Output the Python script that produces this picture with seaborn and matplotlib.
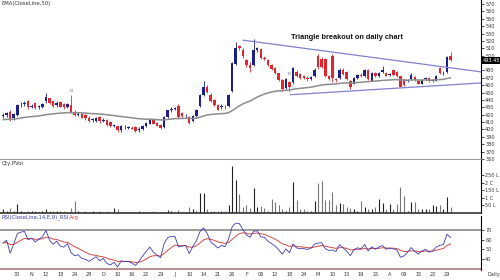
import numpy as np
import pandas as pd
import matplotlib
matplotlib.use("Agg")
import matplotlib.pyplot as plt
import seaborn as sns

# ---------------- data ----------------
opens = [418, 419, 424, 415, 420, 434, 435, 438, 431, 436, 430, 431, 438, 442, 438, 433, 437, 434, 431, 433,
         424, 420, 421, 420, 416, 413, 411, 417, 412, 413, 410, 405, 404, 399, 403, 402, 402, 403, 399, 400,
         404, 408, 413, 409, 406, 403, 417, 426, 428, 432, 422, 419, 417, 411, 418, 432, 447, 457, 447, 440,
         433, 430, 431, 432, 452, 489, 513, 508, 494, 488, 487, 508, 509, 497, 494, 488, 483, 476, 467, 456,
         464, 464, 478, 475, 473, 470, 469, 472, 500, 496, 495, 472, 500, 468, 470, 481, 478, 466, 462, 470,
         474, 472, 481, 466, 477, 472, 478, 477, 474, 481, 478, 472, 468, 466, 468, 471, 466, 462, 468, 470,
         466, 466, 483, 476, 478, 500]
highs = [422, 424, 426, 422, 435, 437, 438, 440, 434, 437, 433, 436, 450, 443, 439, 438, 438, 436, 436, 447,
         426, 423, 422, 421, 418, 416, 417, 418, 415, 414, 411, 408, 405, 406, 406, 405, 404, 404, 403, 406,
         410, 414, 414, 410, 407, 418, 427, 430, 430, 434, 424, 421, 418, 419, 428, 448, 466, 460, 449, 441,
         434, 434, 433, 448, 492, 519, 515, 510, 496, 491, 522, 512, 510, 499, 495, 489, 485, 477, 468, 470,
         466, 485, 480, 476, 474, 472, 472, 483, 502, 498, 497, 474, 502, 470, 483, 483, 479, 467, 471, 475,
         476, 482, 482, 478, 478, 478, 486, 478, 477, 482, 479, 473, 469, 468, 476, 472, 467, 468, 471, 471,
         469, 474, 485, 479, 499, 505]
lows = [415, 417, 412, 413, 418, 431, 432, 428, 429, 428, 428, 429, 436, 434, 430, 431, 430, 428, 429, 422,
        418, 418, 415, 413, 410, 410, 410, 409, 410, 405, 403, 403, 397, 397, 401, 400, 400, 397, 397, 399,
        403, 407, 407, 404, 400, 402, 416, 424, 426, 416, 416, 416, 408, 410, 417, 430, 445, 449, 437, 432,
        426, 428, 428, 431, 451, 487, 508, 497, 484, 478, 486, 505, 496, 494, 486, 481, 475, 466, 452, 455,
        452, 462, 471, 469, 468, 466, 467, 471, 482, 483, 471, 467, 464, 464, 469, 474, 467, 455, 461, 469,
        471, 471, 467, 465, 471, 471, 477, 472, 472, 473, 471, 457, 459, 464, 467, 466, 461, 461, 467, 464,
        464, 465, 475, 474, 477, 493]
closes = [420, 422, 414, 421, 433, 435, 436, 430, 432, 429, 432, 435, 444, 436, 432, 436, 431, 430, 434, 424,
          420, 421, 416, 415, 412, 414, 416, 411, 413, 406, 404, 406, 399, 404, 403, 403, 401, 398, 401, 405,
          409, 413, 408, 405, 402, 417, 426, 428, 428, 417, 418, 419, 409, 418, 427, 447, 458, 451, 438, 433,
          427, 432, 430, 447, 490, 511, 510, 499, 488, 483, 508, 510, 497, 496, 487, 482, 476, 467, 455, 468,
          458, 483, 472, 470, 470, 468, 471, 481, 484, 485, 473, 469, 470, 467, 481, 475, 468, 458, 470, 474,
          472, 481, 468, 477, 472, 477, 480, 473, 475, 474, 472, 458, 460, 466, 474, 467, 462, 467, 470, 465,
          467, 473, 476, 477, 498, 493.45]
volume_lakh = [27, 15, 33, 12, 60, 10, 9, 11, 10, 12, 9, 10, 27, 10, 10, 15, 10, 10, 8, 35,
               80, 10, 9, 12, 8, 10, 9, 15, 8, 10, 8, 35, 28, 8, 9, 8, 8, 8, 15, 8,
               9, 8, 10, 8, 8, 9, 22, 10, 8, 20, 8, 8, 42, 28, 10, 133, 133, 28, 12, 12,
               10, 12, 12, 53, 313, 220, 127, 42, 53, 33, 169, 40, 47, 33, 13, 93, 76, 53, 27, 16,
               40, 209, 87, 27, 27, 13, 10, 80, 200, 216, 87, 87, 142, 53, 67, 60, 40, 35, 27, 15,
               80, 40, 28, 28, 42, 93, 67, 28, 60, 28, 60, 176, 113, 15, 76, 76, 28, 28, 28, 27,
               53, 47, 53, 27, 109, 40]
ema_start = 413          # EMA value at the left edge
rsi_seed_gain = 1.3      # Wilder averages at the left edge (RSI ~ 57)
rsi_seed_loss = 1.0
date_labels = ["30", "N", "12", "18", "24", "28", "D", "10", "16", "22", "29", "J", "10", "14", "21", "26",
               "F", "06", "12", "18", "24", "M", "10", "13", "19", "25", "A", "09", "15", "22", "29"]
price_ticks = list(range(360, 571, 10))
hidden_price_tick = 490   # covered by the last-price box
vol_ticks = [50, 100, 150, 200, 250]
vol_tick_labels = ["50 L", "1 C", "150 L", "2 C", "250 L"]
rsi_ticks = [40, 50, 60, 70]
rsi_levels = [70, 30]
tri_top_bar = [67, 133.5]
tri_top_price = [521, 478]
tri_bot_bar = [80.2, 133.5]
tri_bot_price = [447, 463]
marker_bars = [19, 80]
marker_prices = [449, 472]
last_price_label = "493.45"
headline = "Triangle breakout on daily chart"

# ---------------- derived series ----------------
n = len(closes)
df = pd.DataFrame({"bar": np.arange(n), "open": opens, "high": highs, "low": lows,
                   "close": closes, "vol": volume_lakh})
close = df["close"].astype(float)
ema = pd.concat([pd.Series([float(ema_start)]), close], ignore_index=True)\
        .ewm(span=50, adjust=False).mean().iloc[1:].reset_index(drop=True)
df["ema"] = ema.values
delta = close.diff().fillna(0)
gain = pd.concat([pd.Series([rsi_seed_gain]), delta.clip(lower=0)], ignore_index=True)
loss = pd.concat([pd.Series([rsi_seed_loss]), (-delta).clip(lower=0)], ignore_index=True)
ag = gain.ewm(alpha=1 / 14, adjust=False).mean().iloc[1:].values
al = loss.ewm(alpha=1 / 14, adjust=False).mean().iloc[1:].values
df["rsi"] = 100 - 100 / (1 + ag / al)
df["rsi_avg"] = df["rsi"].ewm(span=9, adjust=False).mean()

# ---------------- figure ----------------
sns.set_theme(style="white")
plt.rcParams["font.family"] = ["DejaVu Sans"]
W, H = 500, 280
fig = plt.figure(figsize=(5, 2.8), dpi=100)
fig.patch.set_facecolor("white")

def fy(y):
    return 1 - y / H

xl = (-0.84, 133.5)
axw = 481 / W
ax_p = fig.add_axes([0, fy(160), axw, fy(0) - fy(160)])
ax_v = fig.add_axes([0, fy(213), axw, fy(160) - fy(213)])
ax_r = fig.add_axes([0, fy(270), axw, fy(216) - fy(270)])

BLUE = "#1b1f8a"
RED = "#e3242b"
up = df["close"] >= df["open"]
cols = np.where(up, BLUE, RED)

# price panel
ax_p.vlines(df["bar"], df["low"], df["high"], colors=cols, lw=0.6)
body = (df["close"] - df["open"]).abs().clip(lower=0.8)
ax_p.bar(df["bar"], body, bottom=np.minimum(df["open"], df["close"]), width=0.7,
         color=cols, linewidth=0)
sns.lineplot(data=df, x="bar", y="ema", ax=ax_p, color="#8c8c8c", lw=1.1)
ax_p.plot(tri_top_bar, tri_top_price, color="#8080d0", lw=0.9)
ax_p.plot(tri_bot_bar, tri_bot_price, color="#8080d0", lw=0.9)
for b, p in zip(marker_bars, marker_prices):
    ax_p.text(b, p, "D", ha="center", va="bottom", fontsize=3.2, color="#666")
ax_p.text(96.0, 524, headline, ha="center", va="center", fontsize=5.3, fontweight="bold",
          family=["Liberation Sans Narrow", "Liberation Sans", "DejaVu Sans"], color="#111")
ax_p.set_xlim(*xl)
ax_p.set_ylim(358.6, 575.4)
ax_p.yaxis.tick_right()
ax_p.set_yticks(price_ticks)
ax_p.set_yticklabels(["" if t == hidden_price_tick else str(t) for t in price_ticks])
ax_p.text(134.0, float(closes[-1]), last_price_label, ha="left", va="center", fontsize=3.6,
          color="white", bbox=dict(boxstyle="square,pad=0.15", fc="black", ec="none"), clip_on=False)

# volume panel
vcols = np.where(up, "#222222", "#777777")
ax_v.vlines(df["bar"], 0, df["vol"], colors=vcols, lw=0.8)
ax_v.set_xlim(*xl)
ax_v.set_ylim(0, 353)
ax_v.yaxis.tick_right()
ax_v.set_yticks(vol_ticks)
ax_v.set_yticklabels(vol_tick_labels)

# RSI panel
for lv in rsi_levels:
    ax_r.axhline(lv, color="#9a9a9a", lw=1.4)
ax_r.axhline(29.3, color="#e08080", lw=0.6)
sns.lineplot(data=df, x="bar", y="rsi_avg", ax=ax_r, color="#d24a4a", lw=0.7)
sns.lineplot(data=df, x="bar", y="rsi", ax=ax_r, color="#3b3bb0", lw=0.6)
ax_r.set_xlim(*xl)
ax_r.set_ylim(28.7, 84.4)
ax_r.yaxis.tick_right()
ax_r.set_yticks(rsi_ticks)
ax_r.set_yticklabels([str(t) for t in rsi_ticks])
label_pos = [4 + 4 * k for k in range(len(date_labels))]
ax_r.set_xticks(label_pos)
ax_r.set_xticklabels(date_labels)

for ax in (ax_p, ax_v, ax_r):
    ax.set_facecolor("white")
    ax.set_xlabel("")
    ax.set_ylabel("")
    for s in ("top", "left"):
        ax.spines[s].set_visible(False)
    ax.spines["right"].set_color("black")
    ax.spines["right"].set_linewidth(0.8)
    ax.tick_params(axis="y", which="both", right=True, length=2, width=0.5, pad=1,
                   labelsize=3.6, labelcolor="#333", color="black")
    ax.grid(False)

ax_p.spines["bottom"].set_color("#9a9a9a")
ax_p.spines["bottom"].set_linewidth(1.5)
ax_p.set_xticks([])
ax_v.spines["bottom"].set_color("#333")
ax_v.spines["bottom"].set_linewidth(1.2)
ax_v.set_xticks([])
ax_r.spines["bottom"].set_visible(False)
ax_r.tick_params(axis="x", length=0, pad=1.5, labelsize=3.6, labelcolor="#333")

fig.text(0.004, fy(4), "EMA(CloseLine,50)", fontsize=3.8, color="#333", va="center")
fig.text(0.004, fy(163.5), "Qty,PVol", fontsize=3.8, color="#333", va="center")
fig.text(0.004, fy(217.5), "RSI(CloseLine,14,E,9)_RSI", fontsize=3.8, color="#3b3bb0", va="center")
fig.text(0.138, fy(217.5), "Avg", fontsize=3.8, color="#d24a4a", va="center")
fig.text(488 / W, fy(274.5), "Daily", fontsize=3.6, color="#333", va="center")

fig.savefig("out.png", dpi=100, facecolor="white")
